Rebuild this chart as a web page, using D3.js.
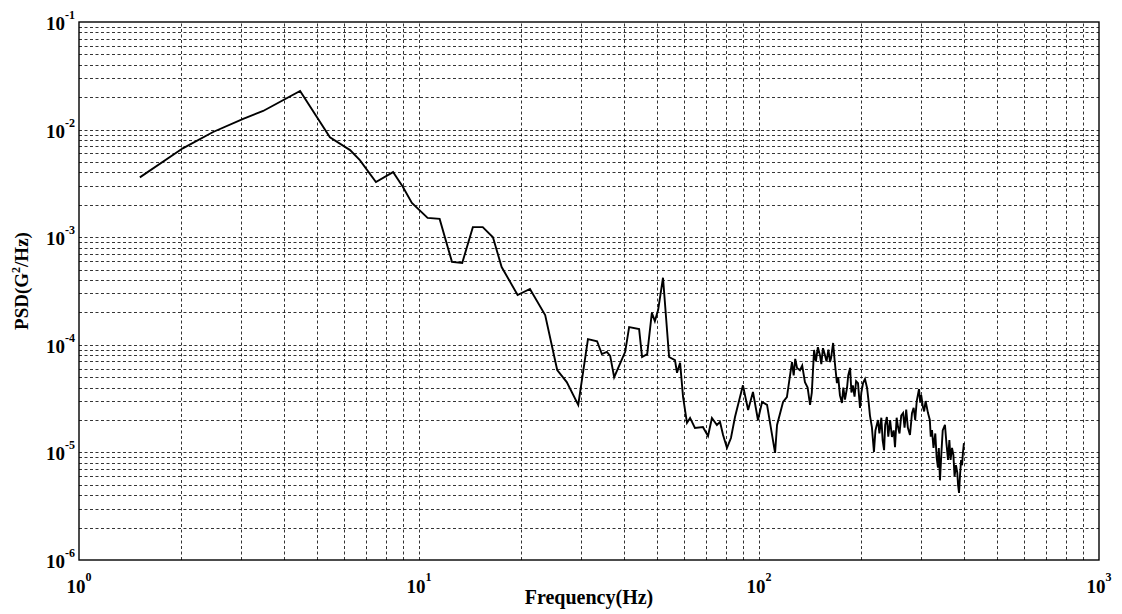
<!DOCTYPE html>
<html>
<head>
<meta charset="utf-8">
<script src="https://cdn.jsdelivr.net/npm/d3@7"></script>
<style>
  html, body { margin: 0; padding: 0; background: #fff; }
  text { font-family: "Liberation Serif", "Times New Roman", serif; font-weight: bold; fill: #000; }
</style>
</head>
<body>
<div id="chart"></div>
<script>
// 频率 (Hz)
const freqHz = [
  1.51, 2.02, 2.48, 3.04, 3.48, 4.47, 5.47, 6.27, 6.7, 7.47,
  8.39, 8.97, 9.53, 10.6, 11.5, 12.5, 13.4, 14.4, 15.4, 16.5,
  17.5, 19.5, 21.2, 23.5, 25.5, 27.2, 29.4, 31.4, 33.4, 34.5,
  35.7, 36.5, 37.5, 40.4, 41.5, 44.4, 45.3, 46.9, 48.4, 49.4,
  50.5, 52.2, 54.4, 56.6, 57.4, 58.6, 59.8,
  61.4, 62.7, 64.8, 68.4, 70.8, 72.7, 75.2, 76.8, 78.4, 80.5,
  82.7, 85.0, 89.7, 92.9, 96.0, 99.3, 102.1, 105.6, 111.5, 113.0,
  117.7, 120.8, 125.0, 126.5, 127.8, 129.4, 132, 134, 136.5, 139,
  141.3, 143, 145.2, 147, 149, 151.1, 152.5, 154.2, 156, 158,
  160, 161.8, 163, 165.2, 167, 169.5, 171, 173, 175.4, 177,
  179, 181.5, 183, 185.3, 187, 188.8, 191, 193, 195.5, 198.2,
  200, 202.3, 205, 207.9, 210, 212, 214.8, 217.8, 220, 223.9,
  226, 229, 231, 233.3, 235, 237.7, 240, 243, 246.0, 249,
  251.2, 254, 256.4, 259, 262, 265.3, 268, 271, 274, 278.0,
  281.8, 285, 288, 291, 295.6, 298, 300, 303.5, 306, 309,
  314.1, 318, 320, 322.7, 326, 330, 333, 336.0, 338, 340.6,
  344, 347, 352.3, 356, 359.7, 363, 366, 369.6, 373, 376,
  379.6, 383, 385, 387.6, 390, 393, 395.6, 398, 400.6
];

// 功率谱密度 (G^2/Hz)
const psdValues = [
  3.6e-3, 6.7e-3, 9.5e-3, 1.26e-2, 1.49e-2, 2.29e-2, 8.5e-3, 6.45e-3, 5.2e-3, 3.26e-3,
  4.03e-3, 2.93e-3, 2.08e-3, 1.51e-3, 1.48e-3, 5.9e-4, 5.76e-4, 1.24e-3, 1.24e-3, 1.0e-3,
  5.28e-4, 2.9e-4, 3.3e-4, 1.89e-4, 5.83e-5, 4.5e-5, 2.76e-5, 1.13e-4, 1.08e-4, 8.2e-5,
  8.6e-5, 7.9e-5, 5.0e-5, 8.6e-5, 1.46e-4, 1.40e-4, 7.7e-5, 8.2e-5, 1.98e-4, 1.66e-4,
  2.1e-4, 4.2e-4, 7.7e-5, 7.2e-5, 5.5e-5, 6.8e-5, 3.27e-5,
  1.88e-5, 2.09e-5, 1.69e-5, 1.72e-5, 1.42e-5, 2.09e-5, 1.80e-5, 1.92e-5, 1.45e-5, 1.10e-5,
  1.36e-5, 2.13e-5, 4.2e-5, 2.48e-5, 3.64e-5, 2.0e-5, 2.94e-5, 2.76e-5, 9.9e-6, 1.80e-5,
  2.94e-5, 3.27e-5, 6.9e-5, 5.2e-5, 7.4e-5, 6.1e-5, 5.8e-5, 6.4e-5, 4.5e-5, 4.0e-5,
  2.76e-5, 3.6e-5, 8.95e-5, 7.0e-5, 9.5e-5, 8.0e-5, 6.6e-5, 9.3e-5, 8.2e-5, 7.0e-5,
  9.0e-5, 6.9e-5, 7.6e-5, 1.04e-4, 7.0e-5, 4.4e-5, 5.0e-5, 3.4e-5, 2.88e-5, 4.0e-5,
  3.1e-5, 3.97e-5, 5.2e-5, 6.1e-5, 3.6e-5, 4.2e-5, 3.3e-5, 4.6e-5, 4.4e-5, 2.59e-5,
  3.6e-5, 4.4e-5, 4.8e-5, 3.97e-5, 3.0e-5, 2.2e-5, 1.72e-5, 1.01e-5, 1.6e-5, 2.0e-5,
  1.5e-5, 2.1e-5, 1.3e-5, 1.05e-5, 1.8e-5, 2.13e-5, 1.4e-5, 2.0e-5, 1.39e-5, 1.6e-5,
  1.12e-5, 2.1e-5, 1.72e-5, 1.5e-5, 2.2e-5, 2.32e-5, 1.7e-5, 2.5e-5, 1.7e-5, 1.45e-5,
  2.32e-5, 2.6e-5, 2.0e-5, 3.0e-5, 3.88e-5, 2.9e-5, 3.4e-5, 2.64e-5, 2.4e-5, 3.0e-5,
  2.32e-5, 2.0e-5, 1.4e-5, 1.61e-5, 1.1e-5, 1.5e-5, 9.0e-6, 7.2e-6, 1.1e-5, 5.5e-6,
  1.0e-5, 1.6e-5, 1.80e-5, 1.2e-5, 8.5e-6, 1.3e-5, 8.5e-6, 1.10e-5, 9.5e-6, 6.0e-6,
  7.6e-6, 6.5e-6, 5.0e-6, 4.2e-6, 6.0e-6, 8.5e-6, 7.6e-6, 1.0e-5, 1.22e-5
];

// 坐标轴刻度 (十的幂次)
const xExponents = [0, 1, 2, 3];
const yExponents = [-6, -5, -4, -3, -2, -1];

const width = 1122, height = 614;
const margin = { left: 79, right: 23, top: 22, bottom: 54 };

const svg = d3.select("#chart").append("svg")
    .attr("width", width)
    .attr("height", height);

svg.append("rect").attr("width", width).attr("height", height).attr("fill", "#fff");

const x = d3.scaleLog()
    .domain([1, 1000])
    .range([margin.left, width - margin.right]);

const y = d3.scaleLog()
    .domain([1e-6, 1e-1])
    .range([height - margin.bottom, margin.top]);

// 网格线：每个十倍程里 1..9
function gridValues(exps) {
  const vals = [];
  for (let i = 0; i < exps.length - 1; i++) {
    for (let k = 1; k <= 9; k++) vals.push(k * Math.pow(10, exps[i]));
  }
  vals.push(Math.pow(10, exps[exps.length - 1]));
  return vals;
}

const xGrid = gridValues(xExponents).filter(v => v > 1 && v < 1000);
const yGrid = gridValues(yExponents).filter(v => v > 1e-6 * 1.001 && v < 0.0999);

const grid = svg.append("g")
    .attr("stroke", "#000")
    .attr("stroke-width", 0.8)
    .attr("stroke-dasharray", "3,2.5");

grid.selectAll("line.vx")
    .data(xGrid)
    .enter().append("line")
    .attr("class", "vx")
    .attr("x1", d => Math.round(x(d)) + 0.5)
    .attr("x2", d => Math.round(x(d)) + 0.5)
    .attr("y1", y.range()[0])
    .attr("y2", y.range()[1]);

grid.selectAll("line.hy")
    .data(yGrid)
    .enter().append("line")
    .attr("class", "hy")
    .attr("x1", x.range()[0])
    .attr("x2", x.range()[1])
    .attr("y1", d => Math.round(y(d)) + 0.5)
    .attr("y2", d => Math.round(y(d)) + 0.5);

// 数据曲线
const pts = freqHz.map((f, i) => [f, psdValues[i]]);
const line = d3.line()
    .x(d => x(d[0]))
    .y(d => y(d[1]));

svg.append("path")
    .datum(pts)
    .attr("fill", "none")
    .attr("stroke", "#000")
    .attr("stroke-width", 1.9)
    .attr("stroke-linejoin", "miter")
    .attr("d", line);

// 边框
svg.append("rect")
    .attr("x", x.range()[0])
    .attr("y", y.range()[1])
    .attr("width", x.range()[1] - x.range()[0])
    .attr("height", y.range()[0] - y.range()[1])
    .attr("fill", "none")
    .attr("stroke", "#000")
    .attr("stroke-width", 1.4);

// x 刻度标签
const xl = svg.append("g").selectAll("text")
    .data(xExponents)
    .enter().append("text")
    .attr("x", d => x(Math.pow(10, d)))
    .attr("y", 593)
    .attr("text-anchor", "middle")
    .style("font-size", "19px");
xl.append("tspan").text("10");
xl.append("tspan").attr("dy", -12).style("font-size", "12px").text(d => d);

// y 刻度标签
const yl = svg.append("g").selectAll("text")
    .data(yExponents)
    .enter().append("text")
    .attr("x", 75)
    .attr("y", d => y(Math.pow(10, d)) + 8)
    .attr("text-anchor", "end")
    .style("font-size", "19px");
yl.append("tspan").text("10");
yl.append("tspan").attr("dy", -11).style("font-size", "12px").text(d => d);

// 轴标题
svg.append("text")
    .attr("x", (x.range()[0] + x.range()[1]) / 2)
    .attr("y", 604)
    .attr("text-anchor", "middle")
    .style("font-size", "20px")
    .text("Frequency(Hz)");

const yt = svg.append("text")
    .attr("transform", "translate(28,281) rotate(-90)")
    .attr("text-anchor", "middle")
    .style("font-size", "19px");
yt.append("tspan").text("PSD(G");
yt.append("tspan").attr("dy", -8).style("font-size", "12px").text("2");
yt.append("tspan").attr("dy", 8).text("/Hz)");
</script>
</body>
</html>
